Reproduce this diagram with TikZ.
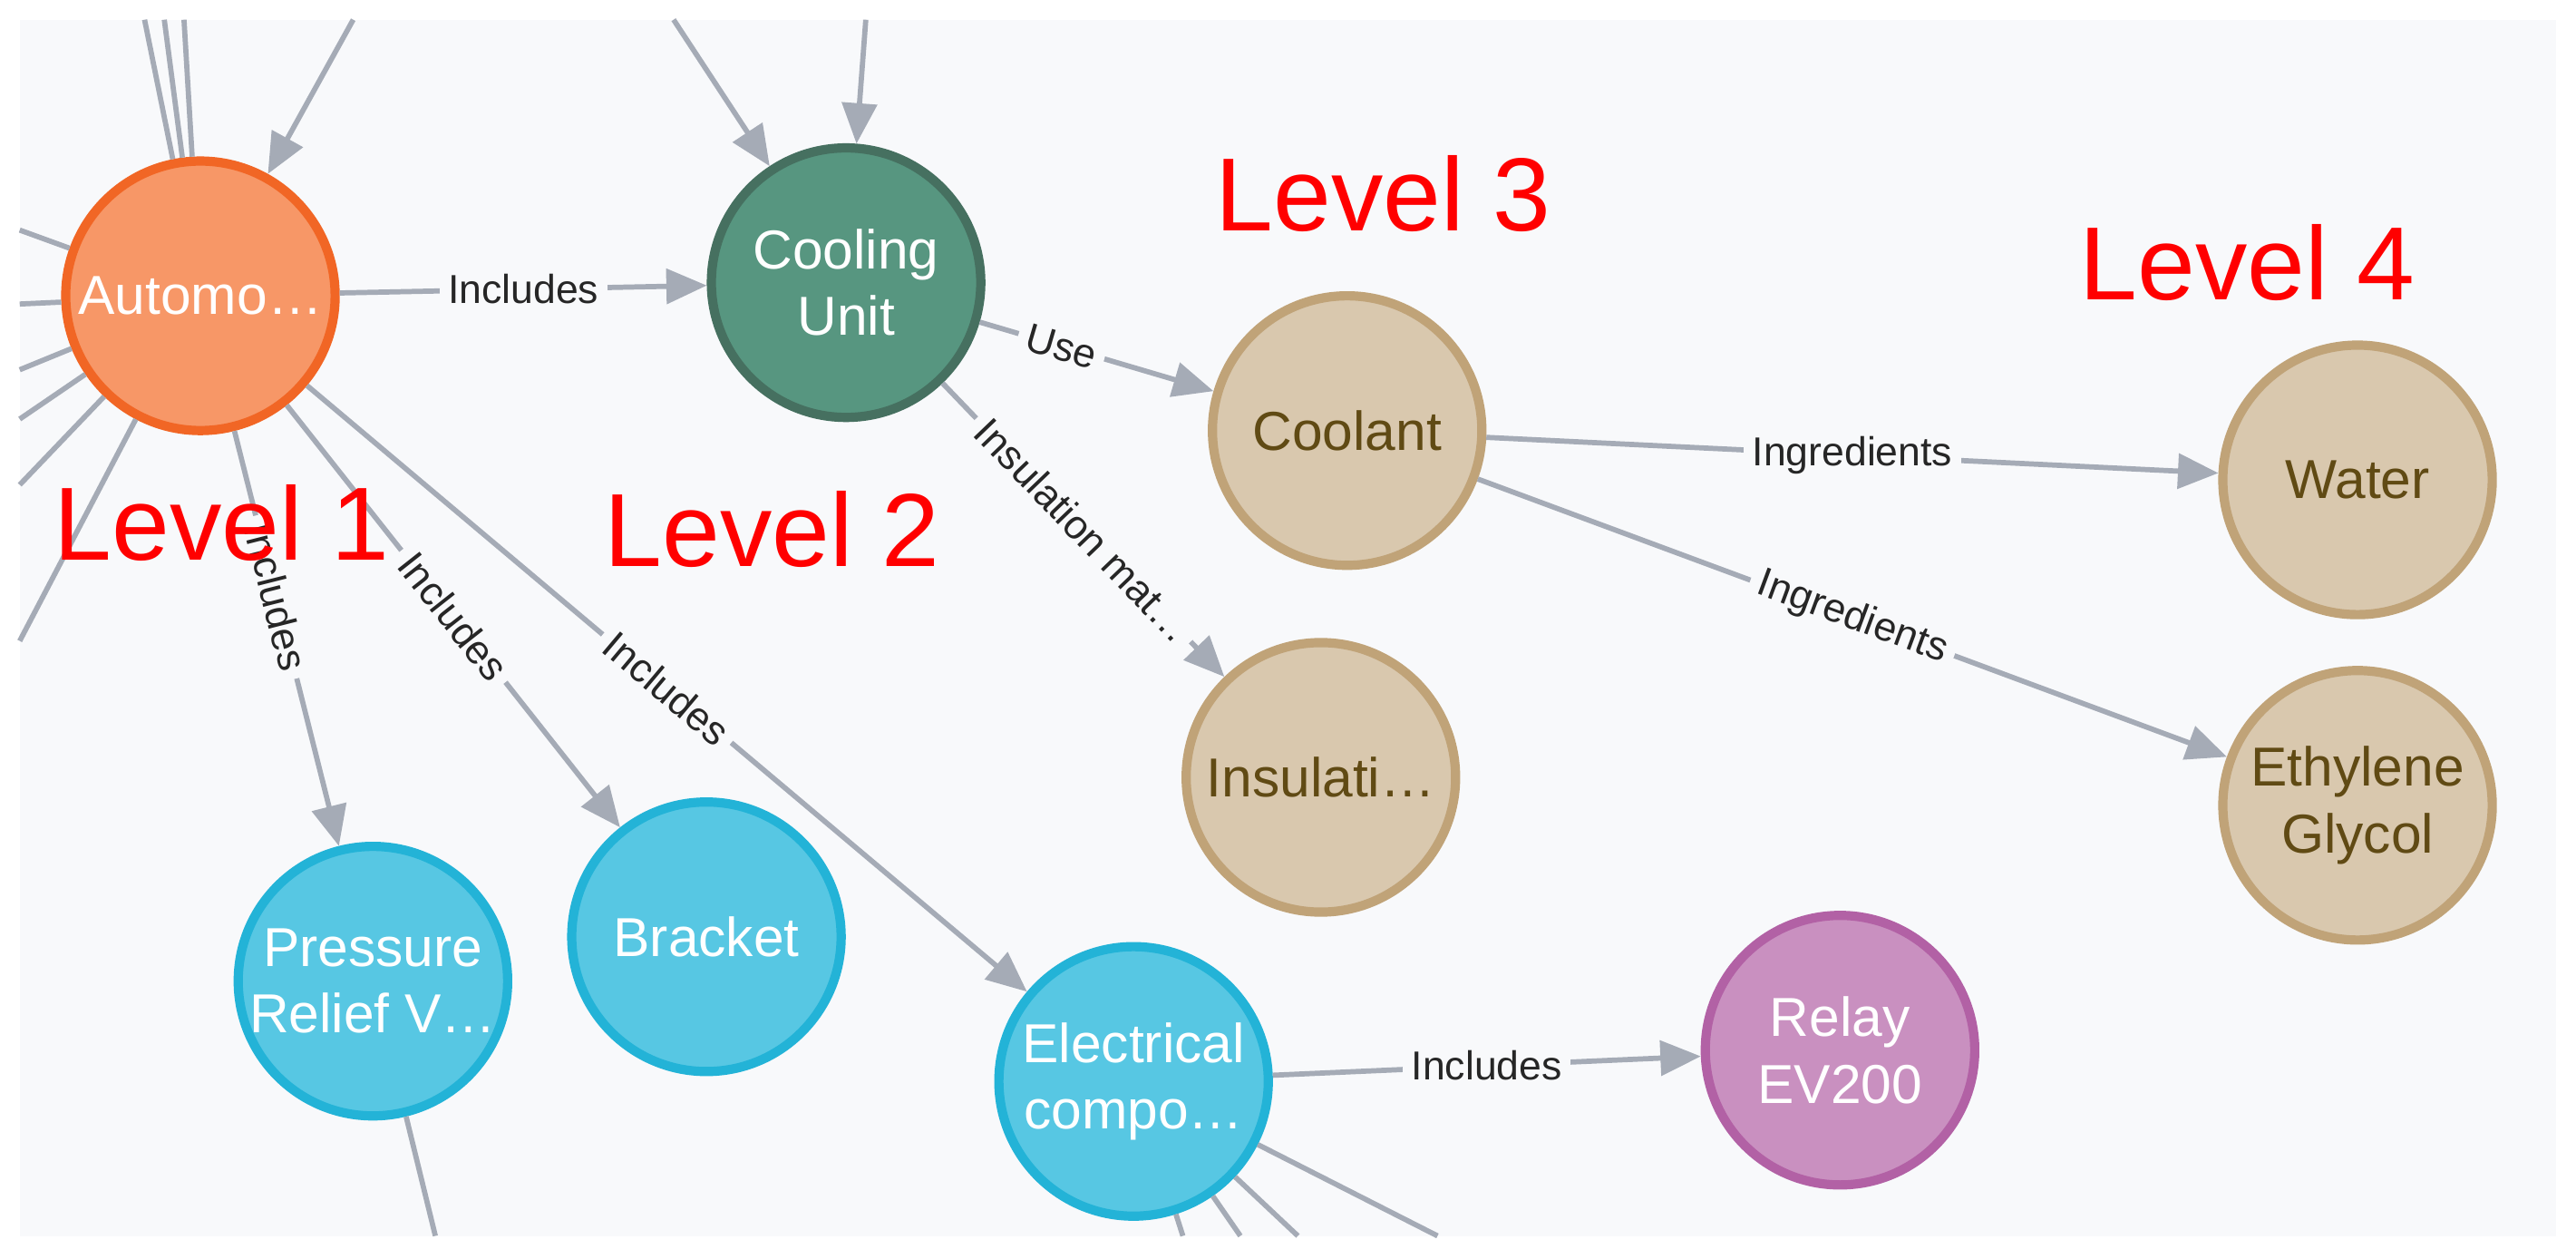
\documentclass[tikz,border=0pt]{standalone}
\usepackage{fontspec}
\setmainfont{Liberation Sans}
\usetikzlibrary{arrows.meta}
\definecolor{bgpanel}{RGB}{248,249,251}
\definecolor{edgegray}{RGB}{165,171,182}
\definecolor{orangefill}{RGB}{247,151,103}
\definecolor{orangeline}{RGB}{241,102,37}
\definecolor{greenfill}{RGB}{87,150,128}
\definecolor{greenline}{RGB}{70,112,96}
\definecolor{tanfill}{RGB}{217,200,174}
\definecolor{tanline}{RGB}{192,163,120}
\definecolor{tantext}{RGB}{96,74,20}
\definecolor{cyanfill}{RGB}{87,199,227}
\definecolor{cyanline}{RGB}{35,179,215}
\definecolor{pinkfill}{RGB}{201,144,192}
\definecolor{pinkline}{RGB}{178,97,165}

\tikzset{
    ent/.style={circle, minimum size=1.64cm, line width=1.6pt, align=center, font=\fontsize{9.5}{11.5}\selectfont, inner sep=0pt},
    auto node/.style={ent, fill=orangefill, draw=orangeline, text=white},
    cool node/.style={ent, fill=greenfill, draw=greenline, text=white},
    mat node/.style={ent, fill=tanfill, draw=tanline, text=tantext},
    part node/.style={ent, fill=cyanfill, draw=cyanline, text=white},
    relay node/.style={ent, fill=pinkfill, draw=pinkline, text=white},
    rel/.style={draw=edgegray, line width=0.9pt, -{Triangle[length=7pt,width=6pt]}},
    stub/.style={draw=edgegray, line width=0.9pt},
    lbl/.style={fill=bgpanel, inner sep=1.5pt, font=\fontsize{7}{8}\selectfont, text=black!85},
    level/.style={text=red, font=\fontsize{18}{22}\selectfont}
}

\begin{document}
\begin{tikzpicture}
    \useasboundingbox (0,0) rectangle (15.68,-7.66);
    \fill[bgpanel] (0.12,-0.12) rectangle (15.56,-7.52);

    % Off-screen ends
    \coordinate (t1) at (0.88,-0.12);
    \coordinate (t2) at (1.00,-0.12);
    \coordinate (t3) at (1.12,-0.12);
    \coordinate (t4) at (2.15,-0.12);
    \coordinate (t5) at (4.10,-0.12);
    \coordinate (t6) at (5.27,-0.12);
    \coordinate (l1) at (0.12,-1.40);
    \coordinate (l2) at (0.12,-1.85);
    \coordinate (l3) at (0.12,-2.25);
    \coordinate (l4) at (0.12,-2.55);
    \coordinate (l5) at (0.12,-2.95);
    \coordinate (l6) at (0.12,-3.90);
    \coordinate (b1) at (2.65,-7.52);
    \coordinate (b2) at (7.20,-7.52);
    \coordinate (b3) at (7.55,-7.52);
    \coordinate (b4) at (7.90,-7.52);
    \coordinate (b5) at (8.75,-7.52);

    % Entities
    \node[auto node] (auto) at (1.22,-1.80) {Automo…};
    \node[cool node] (cool) at (5.15,-1.72) {Cooling\\Unit};
    \node[mat node] (coolant) at (8.20,-2.62) {Coolant};
    \node[mat node] (water) at (14.35,-2.92) {Water};
    \node[mat node] (insul) at (8.04,-4.73) {Insulati…};
    \node[mat node] (glycol) at (14.35,-4.90) {Ethylene\\Glycol};
    \node[part node] (valve) at (2.27,-5.97) {Pressure\\Relief V…};
    \node[part node] (bracket) at (4.30,-5.70) {Bracket};
    \node[part node] (elec) at (6.90,-6.58) {Electrical\\compo…};
    \node[relay node] (relay) at (11.20,-6.39) {Relay\\EV200};

    % Edges leaving the view
    \foreach \c in {t1,t2,t3,l1,l2,l3,l4,l5,l6}
        \draw[stub] (auto) -- (\c);
    \draw[stub] (valve) -- (b1);
    \foreach \c in {b2,b3,b4,b5}
        \draw[stub] (elec) -- (\c);
    \draw[rel] (t4) -- (auto);
    \draw[rel] (t5) -- (cool);
    \draw[rel] (t6) -- (cool);

    % Relations
    \draw[rel] (auto) -- node[lbl] {Includes} (cool);
    \draw[rel] (cool) -- node[lbl, sloped, pos=0.35] {Use} (coolant);
    \draw[rel] (cool) -- node[lbl, sloped] {Insulation mat…} (insul);
    \draw[rel] (coolant) -- node[lbl] {Ingredients} (water);
    \draw[rel] (coolant) -- node[lbl, sloped] {Ingredients} (glycol);
    \draw[rel] (auto) -- node[lbl, sloped, pos=0.4] {Includes} (valve);
    \draw[rel] (auto) -- node[lbl, sloped] {Includes} (bracket);
    \draw[rel] (auto) -- node[lbl, sloped] {Includes} (elec);
    \draw[rel] (elec) -- node[lbl] {Includes} (relay);

    % Level annotations
    \node[level] (lev1) at (1.35,-3.18) {Level 1};
    \node[level] (lev2) at (4.70,-3.22) {Level 2};
    \node[level] (lev3) at (8.42,-1.18) {Level 3};
    \node[level] (lev4) at (13.68,-1.60) {Level 4};
\end{tikzpicture}
\end{document}
